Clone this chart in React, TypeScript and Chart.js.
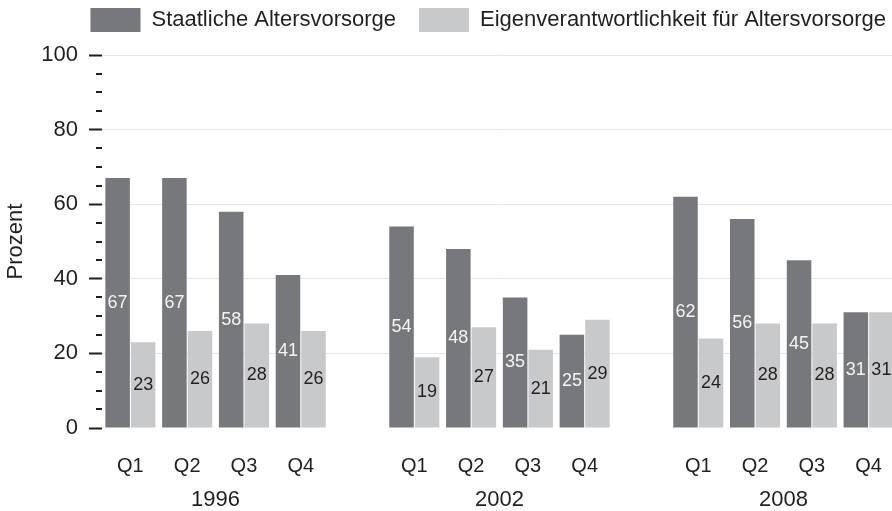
import React, { useEffect, useRef } from 'react';
import { Chart, registerables } from 'chart.js';

Chart.register(...registerables);

// ---- data ----
const categories = ['Q1', 'Q2', 'Q3', 'Q4', '', 'Q1', 'Q2', 'Q3', 'Q4', '', 'Q1', 'Q2', 'Q3', 'Q4'];
const years = ['1996', '2002', '2008'];
const seriesLabels = ['Staatliche Altersvorsorge', 'Eigenverantwortlichkeit für Altersvorsorge'];
const staatlich = [67, 67, 58, 41, null, 54, 48, 35, 25, null, 62, 56, 45, 31];
const eigen = [23, 26, 28, 26, null, 19, 27, 21, 29, null, 24, 28, 28, 31];
const yMinorTicks = [5, 10, 15, 25, 30, 35, 45, 50, 55, 65, 70, 75, 85, 90, 95];

// centre of each year group (in category index units), derived from categories
const yearCenters: number[] = (() => {
  const out: number[] = [];
  let start = -1;
  categories.forEach((c, i) => {
    if (c !== '' && start < 0) start = i;
    const endHere = c !== '' && (i === categories.length - 1 || categories[i + 1] === '');
    if (endHere) {
      out.push((start + i) / 2);
      start = -1;
    }
  });
  return out;
})();

const FONT = "'Liberation Sans', Arial, Helvetica, sans-serif";
const TEXT = '#231f20';
const DARK = '#77787b';
const LIGHT = '#c8c9cb';
const labelColors = ['#f4f4f4', '#231f20'];

const CANVAS_W = 909;
const CANVAS_H = 526;
const OFFSET_Y = -15;

const minorTicksPlugin = {
  id: 'minorTicks',
  afterDraw(chart: any) {
    const y = chart.scales.y;
    const ctx = chart.ctx;
    const left = chart.chartArea.left;
    ctx.save();
    ctx.strokeStyle = TEXT;
    ctx.lineWidth = 2;
    yMinorTicks.forEach((v) => {
      const py = Math.round(y.getPixelForValue(v));
      ctx.beginPath();
      ctx.moveTo(left - 6, py);
      ctx.lineTo(left, py);
      ctx.stroke();
    });
    ctx.restore();
  },
};

const barLabelsPlugin = {
  id: 'barLabels',
  afterDatasetsDraw(chart: any) {
    const ctx = chart.ctx;
    ctx.save();
    ctx.font = `18px ${FONT}`;
    ctx.textAlign = 'center';
    ctx.textBaseline = 'middle';
    chart.data.datasets.forEach((ds: any, i: number) => {
      const meta = chart.getDatasetMeta(i);
      ctx.fillStyle = labelColors[i];
      meta.data.forEach((el: any, j: number) => {
        const v = ds.data[j];
        if (v == null) return;
        const { x, y, base } = el.getProps(['x', 'y', 'base'], true);
        ctx.fillText(String(v), x, (y + base) / 2);
      });
    });
    ctx.restore();
  },
};

export default function App() {
  const ref = useRef<HTMLCanvasElement | null>(null);

  useEffect(() => {
    if (!ref.current) return;
    Chart.defaults.font.family = FONT;
    Chart.defaults.color = TEXT;
    const chart = new Chart(ref.current, {
      type: 'bar',
      data: {
        labels: categories,
        datasets: [
          {
            label: seriesLabels[0],
            data: staatlich,
            backgroundColor: DARK,
            borderWidth: 0,
            xAxisID: 'x',
            yAxisID: 'y',
            categoryPercentage: 0.9,
            barPercentage: 0.96,
          },
          {
            label: seriesLabels[1],
            data: eigen,
            backgroundColor: LIGHT,
            borderWidth: 0,
            xAxisID: 'x',
            yAxisID: 'y',
            categoryPercentage: 0.9,
            barPercentage: 0.96,
          },
        ],
      },
      options: {
        responsive: false,
        animation: false,
        layout: { padding: 0 },
        plugins: {
          legend: {
            position: 'top',
            align: 'end',
            weight: 3000,
            labels: {
              font: { size: 22 },
              color: TEXT,
              boxWidth: 50,
              boxHeight: 24,
              padding: 23,
            },
          } as any,
          title: {
            display: true,
            text: '',
            padding: 0,
            font: { size: 10, lineHeight: 1.3 },
          },
          tooltip: { enabled: false },
        },
        scales: {
          x: {
            type: 'category',
            position: 'bottom',
            weight: 0,
            offset: true,
            grid: { display: false, drawTicks: false },
            border: { display: false },
            ticks: {
              font: { size: 20 },
              color: TEXT,
              padding: 26,
              autoSkip: false,
              maxRotation: 0,
            },
            afterFit(scale: any) {
              scale.height = 50;
            },
          },
          x2: {
            type: 'linear',
            position: 'bottom',
            weight: 1,
            offset: false,
            bounds: 'data',
            min: -0.5,
            max: categories.length - 0.5,
            grid: { display: false, drawTicks: false, offset: false },
            border: { display: false },
            afterBuildTicks(scale: any) {
              scale.ticks = yearCenters.map((v) => ({ value: v }));
            },
            ticks: {
              font: { size: 22 },
              color: TEXT,
              padding: 9,
              autoSkip: false,
              maxRotation: 0,
              callback: (_v: any, i: number) => years[i],
            },
            afterFit(scale: any) {
              scale.height = 33;
            },
          },
          y: {
            type: 'linear',
            position: 'left',
            min: 0,
            max: 100,
            border: { display: false },
            grid: {
              color: (c: any) => (c.tick && c.tick.value === 0 ? 'rgba(0,0,0,0)' : '#e6e6e6'),
              lineWidth: 1,
              drawTicks: true,
              tickLength: 13,
              tickWidth: 2,
              tickColor: TEXT,
            } as any,
            ticks: {
              stepSize: 20,
              font: { size: 22 },
              color: TEXT,
              padding: 11,
            },
            title: {
              display: true,
              text: 'Prozent',
              font: { size: 22 },
              color: TEXT,
              padding: { top: 3, bottom: 0 },
            },
            afterFit(scale: any) {
              scale.width = 102;
            },
          },
          y2: {
            type: 'linear',
            position: 'right',
            display: true,
            grid: { display: false },
            border: { display: false },
            ticks: { display: false },
            afterFit(scale: any) {
              scale.width = CANVAS_W - 897;
            },
          },
        },
      } as any,
      plugins: [minorTicksPlugin, barLabelsPlugin],
    });
    return () => chart.destroy();
  }, []);

  return (
    <div
      style={{
        position: 'fixed',
        left: 0,
        top: 0,
        width: 892,
        height: 511,
        overflow: 'hidden',
        background: '#fff',
      }}
    >
      <canvas
        ref={ref}
        width={CANVAS_W}
        height={CANVAS_H}
        style={{
          position: 'absolute',
          left: 0,
          top: OFFSET_Y,
          width: CANVAS_W,
          height: CANVAS_H,
        }}
      />
    </div>
  );
}
